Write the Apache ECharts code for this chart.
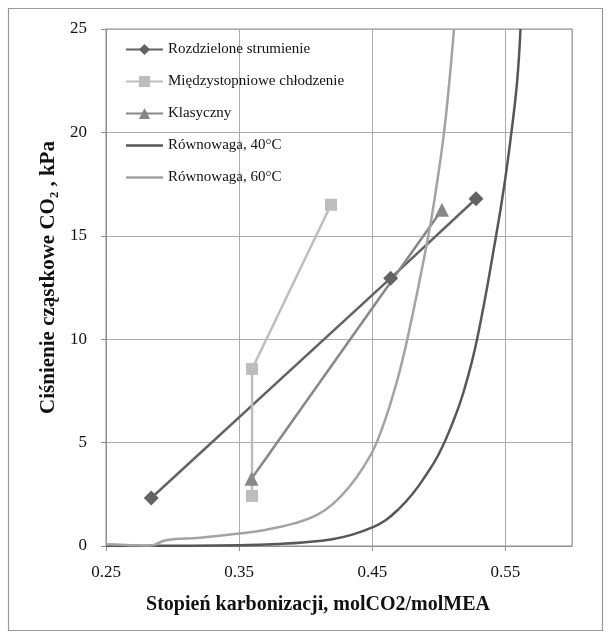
<!DOCTYPE html>
<html><head><meta charset="utf-8">
<script src="https://cdn.jsdelivr.net/npm/echarts@6/dist/echarts.min.js"></script>
<style>html,body{margin:0;padding:0;background:#fff}#c{width:611px;height:639px}</style>
</head><body><div id="c"></div><script>
// ---- data ----
const X_MIN = 0.25;          // left end of the x axis
const X_MAX = 0.60;
const Y_MAX = 25;
const xTickLabels = ['0.25', '0.35', '0.45', '0.55'];
const yTickLabels = ['0', '5', '10', '15', '20', '25'];
const seriesNames = ['Rozdzielone strumienie', 'Międzystopniowe chłodzenie', 'Klasyczny', 'Równowaga, 40°C', 'Równowaga, 60°C'];
const rozdzielone = [[0.284, 2.32], [0.4638, 12.95], [0.5279, 16.79]];
const miedzystopniowe = [[0.3597, 2.42], [0.3597, 8.56], [0.419, 16.5]];
const klasyczny = [[0.3593, 3.25], [0.5023, 16.26]];
const rownowaga40 = [[0.25, 0], [0.30, 0.01], [0.35, 0.04], [0.38, 0.1], [0.40, 0.18], [0.42, 0.33], [0.435, 0.55], [0.45, 0.9], [0.46, 1.25], [0.47, 1.8], [0.48, 2.5], [0.49, 3.4], [0.50, 4.45], [0.51, 5.9], [0.5186, 7.46], [0.5287, 10], [0.5430, 15], [0.5492, 17.47], [0.5545, 20], [0.5588, 22.47], [0.5613, 25]];
const rownowaga60 = [[0.25, 0.08], [0.265, 0.05], [0.283, 0.02], [0.295, 0.28], [0.3205, 0.4], [0.35, 0.6], [0.3706, 0.79], [0.3906, 1.08], [0.4082, 1.49], [0.4207, 2.05], [0.4332, 2.9], [0.4432, 3.8], [0.4533, 5.0], [0.4663, 7.46], [0.4763, 10], [0.4921, 15], [0.4984, 17.47], [0.5039, 20], [0.5079, 22.47], [0.5114, 25]];

// ---- chart ----
const shift = d => d.map(p => [p[0] - X_MIN, p[1]]);
const serif = "'Liberation Serif', 'Times New Roman', serif";
const colors = ['#636363', '#bdbdbd', '#878787', '#575757', '#a3a3a3'];
const lineIcon = 'path://M0,0H37V2.5H0Z';

const chart = echarts.init(document.getElementById('c'), null, { renderer: 'canvas' });
chart.setOption({
  animation: false,
  backgroundColor: '#fff',
  color: colors,
  graphic: [{
    type: 'rect', silent: true,
    shape: { x: 8.5, y: 8.5, width: 594, height: 622 },
    style: { fill: 'none', stroke: '#9a9a9a', lineWidth: 1.2 }
  }],
  grid: { left: 106, right: 39, top: 29, bottom: 93, show: true, borderColor: '#8f8f8f', borderWidth: 1 },
  legend: {
    orient: 'vertical', left: 125, top: 42, itemGap: 17, itemWidth: 37, itemHeight: 14, padding: 0,
    symbolKeepAspect: true,
    data: [
      seriesNames[0], seriesNames[1], seriesNames[2],
      { name: seriesNames[3], icon: lineIcon },
      { name: seriesNames[4], icon: lineIcon }
    ],
    textStyle: { fontFamily: serif, fontSize: 15, color: '#111' }
  },
  xAxis: {
    type: 'value', min: 0, max: X_MAX - X_MIN, interval: 0.1,
    name: 'Stopień karbonizacji, molCO2/molMEA', nameLocation: 'middle', nameGap: 49,
    nameTextStyle: { fontFamily: serif, fontSize: 20, fontWeight: 'bold', color: '#111', padding: [0, 42, 0, 0] },
    axisLine: { show: true, lineStyle: { color: '#8f8f8f', width: 1 } },
    axisTick: { show: true, length: 5, lineStyle: { color: '#8f8f8f' } },
    axisLabel: {
      margin: 18, fontFamily: serif, fontSize: 17, color: '#111', showMaxLabel: false,
      formatter: v => { const i = Math.round(v / 0.1); return xTickLabels[i] !== undefined && Math.abs(v - i * 0.1) < 1e-6 ? xTickLabels[i] : ''; }
    },
    splitLine: { show: true, lineStyle: { color: '#ababab', width: 1 } }
  },
  yAxis: {
    type: 'value', min: 0, max: Y_MAX, interval: 5,
    name: 'Ciśnienie cząstkowe CO₂ , kPa', nameLocation: 'middle', nameGap: 34, nameRotate: 90,
    nameTextStyle: { fontFamily: serif, fontSize: 21, fontWeight: 'bold', color: '#111', padding: [0, 0, 0, 20] },
    axisLine: { show: true, lineStyle: { color: '#8f8f8f', width: 1 } },
    axisTick: { show: true, length: 5, lineStyle: { color: '#8f8f8f' } },
    axisLabel: {
      margin: 19, fontFamily: serif, fontSize: 17, color: '#111',
      formatter: v => yTickLabels[Math.round(v / 5)] || ''
    },
    splitLine: { show: true, lineStyle: { color: '#ababab', width: 1 } }
  },
  series: [
    { name: seriesNames[0], type: 'line', data: shift(rozdzielone), symbol: 'diamond', symbolSize: 15,
      lineStyle: { width: 2.5, color: colors[0] }, itemStyle: { color: colors[0] } },
    { name: seriesNames[1], type: 'line', data: shift(miedzystopniowe), symbol: 'rect', symbolSize: 12,
      lineStyle: { width: 2.5, color: colors[1] }, itemStyle: { color: colors[1] } },
    { name: seriesNames[2], type: 'line', data: shift(klasyczny), symbol: 'triangle', symbolSize: 14,
      lineStyle: { width: 2.5, color: colors[2] }, itemStyle: { color: colors[2] } },
    { name: seriesNames[3], type: 'line', data: shift(rownowaga40), showSymbol: false, smooth: 0.45,
      lineStyle: { width: 2.5, color: colors[3] }, itemStyle: { color: colors[3] } },
    { name: seriesNames[4], type: 'line', data: shift(rownowaga60), showSymbol: false, smooth: 0.45,
      lineStyle: { width: 2.5, color: colors[4] }, itemStyle: { color: colors[4] } }
  ]
});
</script></body></html>
